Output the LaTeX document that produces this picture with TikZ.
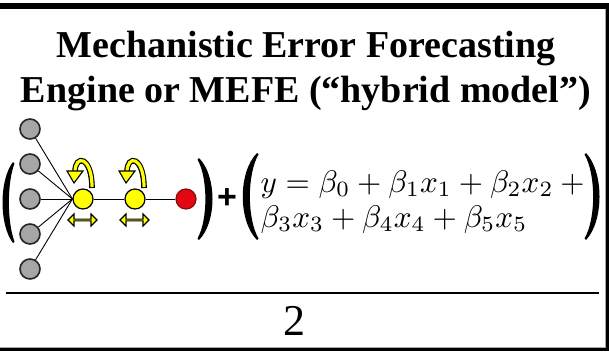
\documentclass[tikz,border=0pt]{standalone}
\usepackage{amsmath}
\usepackage{fontspec}
\setmainfont{Liberation Serif}
\newfontfamily\plusfont{Liberation Sans}
\usetikzlibrary{shapes.arrows}
\definecolor{cgray}{HTML}{A6A6A6}
\definecolor{cyel}{HTML}{FFFF00}
\definecolor{cred}{HTML}{E30613}
\definecolor{cdred}{HTML}{8B0A0A}
\tikzset{
  grayc/.style={circle,draw=black!85,fill=cgray,line width=1.6pt,minimum size=20pt,inner sep=0pt},
  yelc/.style={circle,draw=black,fill=cyel,line width=1.2pt,minimum size=20pt,inner sep=0pt},
  redc/.style={circle,draw=cdred,fill=cred,line width=1.2pt,minimum size=20pt,inner sep=0pt},
  link/.style={line width=0.9pt,black},
  darrow/.style={double arrow,draw=black,fill=cyel,line width=1.1pt,minimum height=29pt,minimum width=12pt,double arrow head extend=3.2pt,inner sep=0pt},
  paren/.style={fill=black},
  titletext/.style={font=\fontsize{38}{45}\selectfont\bfseries,anchor=base,inner sep=0pt},
  eqtext/.style={anchor=base west,inner sep=0pt,font=\fontsize{10}{12}\selectfont,scale=3.12},
}
\newcommand\myloop[1]{%
  \begin{scope}[xshift=#1]
    \draw[line width=5.6pt,black] (92,188) .. controls (92,156) and (75,154) .. (75,172);
    \draw[line width=3.2pt,cyel] (92,187) .. controls (92,156) and (75,154) .. (75,172);
    \filldraw[fill=cyel,draw=black,line width=1.1pt] (67,171) -- (83,171) -- (74,183) -- cycle;
  \end{scope}}
\begin{document}
\begin{tikzpicture}[x=1pt,y=-1pt]
\useasboundingbox (0,0) rectangle (609,351);
\fill[white] (0,0) rectangle (609,351);
% frame
\fill[black] (0,3) rectangle (609,9);
\fill[black] (606,3) rectangle (609,351);
\fill[black] (0,347.5) rectangle (609,351);
\draw[gray!70,line width=0.6pt] (0,347.2) -- (605.7,347.2) -- (605.7,9);
% title
\node[titletext] (t1) at (306,57) {Mechanistic Error Forecasting};
\node[titletext] (t2) at (306,102) {Engine or MEFE (“hybrid model”)};
% network
\node[grayc] (g1) at (30,129) {};
\node[grayc] (g2) at (30,164) {};
\node[grayc] (g3) at (30,199) {};
\node[grayc] (g4) at (30,234) {};
\node[grayc] (g5) at (30,269) {};
\node[yelc] (y1) at (83,199) {};
\node[yelc] (y2) at (135,199) {};
\node[redc] (r1) at (186,199) {};
\foreach \g in {g1,g2,g3,g4,g5} \draw[link] (\g) -- (y1.west);
\draw[link] (y1) -- (y2);
\draw[link] (y2) -- (r1);
\myloop{0pt}
\myloop{52pt}
\node[darrow] (d1) at (82.5,220) {};
\node[darrow] (d2) at (134.5,220) {};
% parentheses
\fill[paren] (13,162) .. controls (-1,180) and (-1,225) .. (13,243)
  -- (14.5,241.5) .. controls (7,222) and (7,183) .. (14.5,163.5) -- cycle;
\fill[paren] (199,158) .. controls (217,176) and (217,222) .. (199,240)
  -- (197.5,238.5) .. controls (208,220) and (208,178) .. (197.5,159.5) -- cycle;
\fill[paren] (257,153) .. controls (238,172) and (238,221) .. (257,240)
  -- (258.5,238.5) .. controls (247,219) and (247,174) .. (258.5,154.5) -- cycle;
\fill[paren] (586,153) .. controls (604,172) and (604,221) .. (586,240)
  -- (584.5,238.5) .. controls (596,219) and (596,174) .. (584.5,154.5) -- cycle;
% plus
\node[font=\plusfont\bfseries\fontsize{34}{34}\selectfont,inner sep=0pt] (plus) at (227,199) {+};
% equation
\node[eqtext] (eq1) at (260,192) {$y=\beta_0+\beta_1x_1+\beta_2x_2+{}$};
\node[eqtext] (eq2) at (260,227) {$\beta_3x_3+\beta_4x_4+\beta_5x_5$};
% separator and number
\draw[line width=2pt] (6,293) -- (599,293);
\node[anchor=base,inner sep=0pt,font=\fontsize{44}{44}\selectfont] (num) at (294,335) {2};
\end{tikzpicture}
\end{document}
